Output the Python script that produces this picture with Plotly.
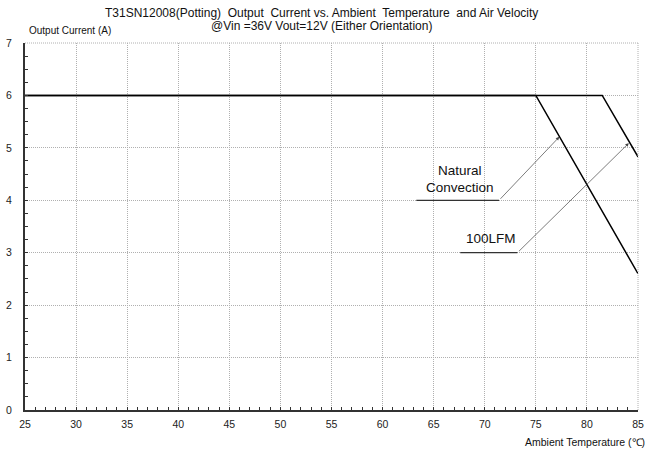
import plotly.graph_objects as go

# Data
temp_nc = [25, 75, 85]
current_nc = [6, 6, 2.6]
temp_lfm = [25, 81.5, 85]
current_lfm = [6, 6, 4.83]

x_ticks = [25, 30, 35, 40, 45, 50, 55, 60, 65, 70, 75, 80, 85]
y_ticks = [0, 1, 2, 3, 4, 5, 6, 7]

FONT = "Liberation Sans, Arial, sans-serif"
GRID = "#b0b0b0"

fig = go.Figure()
fig.add_trace(go.Scatter(x=temp_nc, y=current_nc, mode="lines",
                         line=dict(color="black", width=1.5), showlegend=False))
fig.add_trace(go.Scatter(x=temp_lfm, y=current_lfm, mode="lines",
                         line=dict(color="black", width=1.5), showlegend=False))

axis_common = dict(
    showgrid=True, gridcolor=GRID, griddash="1px,1px", gridwidth=1,
    showline=True, linecolor="#333333", linewidth=2,
    ticks="inside", ticklen=3, tickcolor="#333333",
    zeroline=False, automargin=False,
    tickfont=dict(family=FONT, size=10.5, color="#222"),
)

fig.update_xaxes(range=[25, 85], tickvals=x_ticks, ticklabelstandoff=3,
                 minor=dict(dtick=1, ticks="inside", ticklen=3, tickcolor="#333333", showgrid=False),
                 **axis_common)
fig.update_yaxes(range=[0, 7], tickvals=y_ticks, ticklabelstandoff=9,
                 minor=dict(dtick=0.25, ticks="inside", ticklen=3, tickcolor="#333333", showgrid=False),
                 **axis_common)

# top/right dotted border
fig.add_shape(type="line", xref="paper", yref="paper", x0=0, x1=1, y0=1, y1=1,
              line=dict(color=GRID, width=1, dash="1px,1px"))
fig.add_shape(type="line", xref="paper", yref="paper", x0=1, x1=1, y0=0, y1=1,
              line=dict(color=GRID, width=1, dash="1px,1px"))

# underline leaders
fig.add_shape(type="line", x0=63.3, x1=71.4, y0=4.0, y1=4.0, line=dict(color="#333", width=1.2))
fig.add_shape(type="line", x0=67.6, x1=73.2, y0=3.0, y1=3.0, line=dict(color="#333", width=1.2))

# arrows
fig.add_annotation(x=77.3, y=5.21, ax=71.4, ay=4.0, xref="x", yref="y", axref="x", ayref="y",
                   text="", showarrow=True, arrowhead=2, arrowsize=1, arrowwidth=0.7, arrowcolor="#444")
fig.add_annotation(x=84.1, y=5.09, ax=73.2, ay=3.0, xref="x", yref="y", axref="x", ayref="y",
                   text="", showarrow=True, arrowhead=2, arrowsize=1, arrowwidth=0.7, arrowcolor="#444")

# labels
LBL = dict(family=FONT, size=13.5, color="#111")
fig.add_annotation(x=67.58, y=4.56, xref="x", yref="y", text="Natural", showarrow=False, font=LBL)
fig.add_annotation(x=67.58, y=4.25, xref="x", yref="y", text="Convection", showarrow=False, font=LBL)
fig.add_annotation(x=70.6, y=3.28, xref="x", yref="y", text="100LFM", showarrow=False, font=LBL)

# titles
fig.add_annotation(xref="paper", yref="paper", x=(321 - 25) / 613, y=1 + (43 - 13.5) / 367,
                   text="T31SN12008(Potting)  Output  Current vs. Ambient  Temperature  and Air Velocity",
                   showarrow=False, font=dict(family=FONT, size=12, color="#111"),
                   xanchor="center", yanchor="middle")
fig.add_annotation(xref="paper", yref="paper", x=(321 - 25) / 613, y=1 + (43 - 25.5) / 367,
                   text="@Vin =36V Vout=12V (Either Orientation)",
                   showarrow=False, font=dict(family=FONT, size=12, color="#111"),
                   xanchor="center", yanchor="middle")
fig.add_annotation(xref="paper", yref="paper", x=(27 - 25) / 613, y=1 + (43 - 31) / 367,
                   text="Output Current (A)", showarrow=False,
                   font=dict(family=FONT, size=10, color="#111"),
                   xanchor="left", yanchor="middle")
fig.add_annotation(xref="paper", yref="paper", x=(647 - 25) / 613, y=-(442 - 410) / 367,
                   text="Ambient Temperature (℃)", showarrow=False,
                   font=dict(family=FONT, size=10.5, color="#111"),
                   xanchor="right", yanchor="middle")

fig.update_layout(
    width=649, height=452,
    margin=dict(l=25, r=11, t=43, b=42),
    paper_bgcolor="white", plot_bgcolor="white",
    showlegend=False,
)

fig.write_html("out.html", config={"displayModeBar": False},
               post_script="document.body.style.margin='0';document.body.style.overflow='hidden';")
